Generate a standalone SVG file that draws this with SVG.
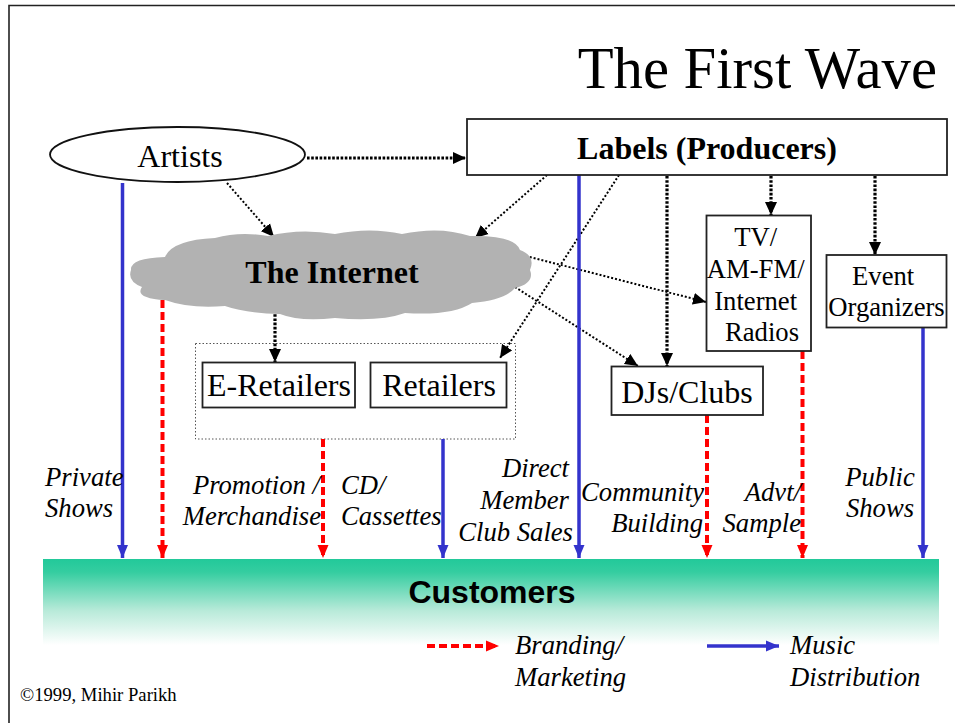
<svg xmlns="http://www.w3.org/2000/svg" width="958" height="723" viewBox="0 0 958 723">
  <style>
    .serif { font-family: "Liberation Serif", "Times New Roman", serif; fill: #000; }
    .node-lg { font-size: 32px; }
    .node-sm { font-size: 26.67px; }
    .bold { font-weight: bold; }
    .ital { font-family: "Liberation Serif", "Times New Roman", serif; font-style: italic; font-size: 26.67px; fill: #000; }
    .box { fill: #fff; stroke: #222; stroke-width: 1.8; }
    .dist { stroke: #3333cc; stroke-width: 3.5; fill: none; }
    .brand { stroke: #ff0000; stroke-width: 4; stroke-dasharray: 8 4; fill: none; }
    .dot-thick { stroke: #000; stroke-width: 3.2; stroke-dasharray: 2.6 1.6; fill: none; }
    .dot-thin { stroke: #000; stroke-width: 2; stroke-dasharray: 2 2; fill: none; }
  </style>
  <defs>
    <linearGradient id="customerFill" x1="0" y1="0" x2="0" y2="1">
      <stop offset="0" stop-color="#22c99a"/>
      <stop offset="0.15" stop-color="#34cda0"/>
      <stop offset="0.6" stop-color="#b8ead9"/>
      <stop offset="1" stop-color="#ffffff"/>
    </linearGradient>
    <marker id="ah-blue" markerUnits="userSpaceOnUse" markerWidth="13" markerHeight="12" viewBox="0 0 13 12" refX="13" refY="6" orient="auto">
      <path d="M0,0.5 L13,6 L0,11.5 Z" fill="#3333cc"/>
    </marker>
    <marker id="ah-red" markerUnits="userSpaceOnUse" markerWidth="13" markerHeight="12" viewBox="0 0 13 12" refX="13" refY="6" orient="auto">
      <path d="M0,0.5 L13,6 L0,11.5 Z" fill="#ff0000"/>
    </marker>
    <marker id="ah-black" markerUnits="userSpaceOnUse" markerWidth="13" markerHeight="13" viewBox="0 0 13 13" refX="13" refY="6.5" orient="auto">
      <path d="M0,0.5 L13,6.5 L0,12.5 Z" fill="#000"/>
    </marker>
  </defs>

  <rect x="0" y="0" width="958" height="723" fill="#fff"/>
  <!-- slide frame -->
  <path d="M9,723 V5.5 H955" fill="none" stroke="#222" stroke-width="1.6"/>

  <text class="serif" x="937" y="88" font-size="58.7" text-anchor="end">The First Wave</text>

  <!-- customers band -->
  <g id="customers">
    <rect x="43" y="559" width="896" height="86" fill="url(#customerFill)"/>
    <text x="492" y="603" font-family="'Liberation Sans', Arial, sans-serif" font-weight="bold" font-size="32" text-anchor="middle">Customers</text>
  </g>

  <!-- grouping of retail channels -->
  <rect id="retail-group" x="195.5" y="343.5" width="320" height="95.5" fill="none" stroke="#555" stroke-width="1" stroke-dasharray="1.5 2"/>

  <g id="connectors">
    <!-- influence flows -->
    <line class="dot-thick" x1="307" y1="158" x2="466" y2="158" marker-end="url(#ah-black)"/>
    <line class="dot-thin" x1="227" y1="183" x2="274" y2="237" marker-end="url(#ah-black)"/>
    <line class="dot-thin" x1="547" y1="175" x2="475" y2="238" marker-end="url(#ah-black)"/>
    <line class="dot-thin" x1="619" y1="175" x2="500" y2="358" marker-end="url(#ah-black)"/>
    <line class="dot-thin" x1="522" y1="255" x2="706" y2="302" marker-end="url(#ah-black)"/>
    <line class="dot-thin" x1="515" y1="287" x2="638" y2="366" marker-end="url(#ah-black)"/>
    <line class="dot-thick" x1="771" y1="176" x2="771" y2="215" marker-end="url(#ah-black)"/>
    <line class="dot-thick" x1="875" y1="176" x2="875" y2="255" marker-end="url(#ah-black)"/>
    <line class="dot-thick" x1="667" y1="176" x2="667" y2="366" marker-end="url(#ah-black)"/>
    <line class="dot-thick" x1="275" y1="310" x2="275" y2="362" marker-end="url(#ah-black)"/>

    <!-- music distribution -->
    <line class="dist" x1="122.5" y1="183" x2="122.5" y2="558" marker-end="url(#ah-blue)"/>
    <line class="dist" x1="443" y1="439" x2="443" y2="558" marker-end="url(#ah-blue)"/>
    <line class="dist" x1="579" y1="175" x2="579" y2="558" marker-end="url(#ah-blue)"/>
    <line class="dist" x1="923" y1="328" x2="923" y2="558" marker-end="url(#ah-blue)"/>

    <!-- branding / marketing -->
    <line class="brand" x1="162.5" y1="300" x2="162.5" y2="558" marker-end="url(#ah-red)"/>
    <line class="brand" x1="323" y1="439" x2="323" y2="558" marker-end="url(#ah-red)"/>
    <line class="brand" x1="707" y1="415" x2="707" y2="558" marker-end="url(#ah-red)"/>
    <line class="brand" x1="802.5" y1="351" x2="802.5" y2="558" marker-end="url(#ah-red)"/>
  </g>

  <g id="artists">
    <ellipse cx="177.5" cy="154.5" rx="127.5" ry="27.5" fill="#fff" stroke="#111" stroke-width="1.8"/>
    <text class="serif node-lg" x="180" y="167" text-anchor="middle">Artists</text>
  </g>

  <g id="labels">
    <rect class="box" x="467" y="119" width="480" height="56"/>
    <text class="serif node-lg bold" x="707" y="159" text-anchor="middle">Labels (Producers)</text>
  </g>

  <g id="internet">
    <path d="M131,270 Q130,258 165,257 Q172,240 215,238 Q240,231 268,236 Q300,228 335,234 Q370,227 402,234 Q440,226 470,236 Q515,235 520,250 Q536,256 530,270 Q535,283 515,288 Q505,300 472,303 Q452,316 405,313 Q380,322 335,318 Q300,322 280,314 Q245,313 225,306 Q190,309 165,300 Q134,298 142,287 Q127,281 131,270 Z" fill="#b2b2b2"/>
    <text class="serif node-lg bold" x="332" y="283" text-anchor="middle">The Internet</text>
  </g>

  <g id="e-retailers">
    <rect class="box" x="202.5" y="362.5" width="152.5" height="45"/>
    <text class="serif node-lg" x="279" y="396" text-anchor="middle">E-Retailers</text>
  </g>

  <g id="retailers">
    <rect class="box" x="370.5" y="362.5" width="136" height="45"/>
    <text class="serif node-lg" x="439" y="396" text-anchor="middle">Retailers</text>
  </g>

  <g id="djs-clubs">
    <rect class="box" x="611.5" y="366.5" width="151.5" height="48.5"/>
    <text class="serif node-lg" x="687" y="403" text-anchor="middle">DJs/Clubs</text>
  </g>

  <g id="radios">
    <rect class="box" x="706.5" y="215.5" width="104.5" height="135.5"/>
    <text class="serif node-sm" text-anchor="middle">
      <tspan x="759" y="246">TV/</tspan>
      <tspan x="759" y="277.5">AM-FM/</tspan>
      <tspan x="759" y="309.5">Internet</tspan>
      <tspan x="762" y="341">Radios</tspan>
    </text>
  </g>

  <g id="event-organizers">
    <rect class="box" x="826.5" y="255" width="120" height="72.5"/>
    <text class="serif node-sm" text-anchor="middle">
      <tspan x="886.5" y="285">Event</tspan>
      <tspan x="886.5" y="316">Organizers</tspan>
    </text>
  </g>

  <!-- channel captions -->
  <g id="captions">
    <text class="ital"><tspan x="45" y="486">Private</tspan><tspan x="45" y="517">Shows</tspan></text>
    <text class="ital" text-anchor="end"><tspan x="320" y="494">Promotion /</tspan><tspan x="321" y="525">Merchandise</tspan></text>
    <text class="ital"><tspan x="341" y="494">CD/</tspan><tspan x="341" y="525">Cassettes</tspan></text>
    <text class="ital" text-anchor="end"><tspan x="569" y="477">Direct</tspan><tspan x="569" y="509">Member</tspan><tspan x="573" y="541">Club Sales</tspan></text>
    <text class="ital" text-anchor="end"><tspan x="704" y="501">Community</tspan><tspan x="703" y="532">Building</tspan></text>
    <text class="ital" text-anchor="end"><tspan x="801" y="501">Advt/</tspan><tspan x="801" y="532">Sample</tspan></text>
    <text class="ital" text-anchor="middle"><tspan x="880" y="486">Public</tspan><tspan x="880" y="517">Shows</tspan></text>
  </g>

  <!-- legend -->
  <g id="legend">
    <line class="brand" x1="427" y1="646" x2="499" y2="646" stroke-dasharray="9 5 8 5" marker-end="url(#ah-red)"/>
    <text class="ital"><tspan x="515" y="654">Branding/</tspan><tspan x="515" y="686">Marketing</tspan></text>
    <line class="dist" x1="707" y1="646" x2="779" y2="646" stroke-width="4.5" marker-end="url(#ah-blue)"/>
    <text class="ital"><tspan x="790" y="654">Music</tspan><tspan x="790" y="686">Distribution</tspan></text>
  </g>

  <text class="serif" x="20" y="701" font-size="18.67">©1999, Mihir Parikh</text>
</svg>
